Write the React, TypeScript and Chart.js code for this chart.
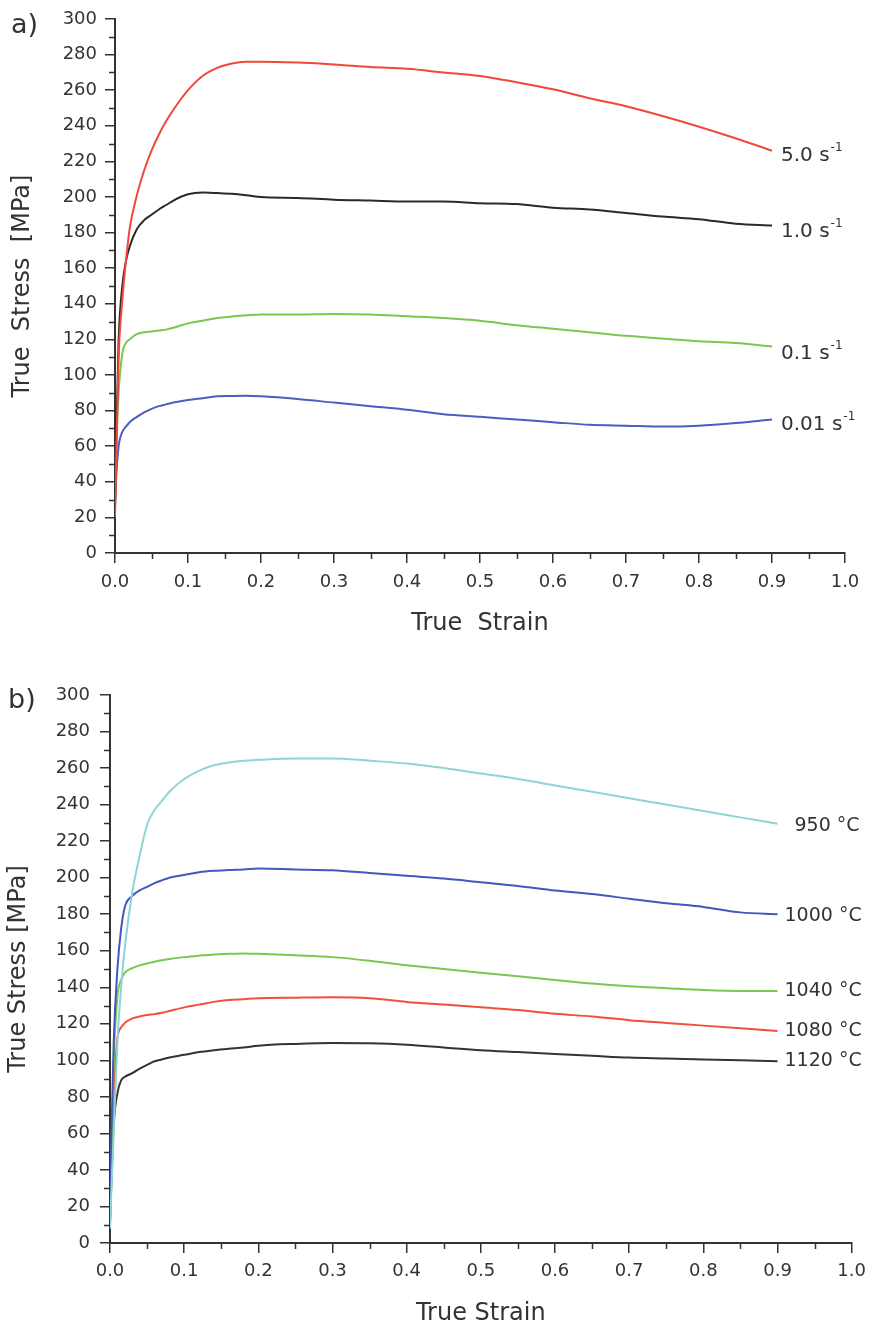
import React, { useEffect, useRef } from "react";
import { Chart, registerables } from "chart.js";

Chart.register(...registerables);

const FAMILY = "'DejaVu Sans', Verdana, sans-serif";
const INK = "#333333";

// ---------- Panel a) : strain-rate series ----------
const strainA = [0, 0.002, 0.005, 0.01, 0.015, 0.02, 0.03, 0.04, 0.05, 0.06, 0.07, 0.08, 0.1, 0.12, 0.14, 0.16, 0.18, 0.2, 0.25, 0.3, 0.35, 0.4, 0.45, 0.5, 0.55, 0.6, 0.65, 0.7, 0.75, 0.8, 0.85, 0.9];
const rate5 = [20, 60, 110, 142, 164, 182, 201, 215, 226, 235, 242.5, 249, 260, 268, 272.5, 275, 276, 276, 275.5, 274.5, 273, 272, 270, 268, 264.5, 260.5, 255.5, 251, 245.5, 239.5, 233, 226];
const rate1 = [25, 70, 120, 150, 164, 172, 182, 187, 190, 193, 195.5, 198, 201.5, 202.5, 202.2, 201.8, 201, 200, 199.5, 198.5, 198, 197.5, 197.5, 196.5, 196, 194, 193, 191, 189, 187.5, 185, 184];
const rate01 = [25, 60, 90, 112, 118, 120, 123, 124, 124.5, 125, 125.5, 126.5, 129, 130.5, 132, 132.8, 133.5, 134, 134, 134.3, 134, 133, 132, 130.5, 128, 126, 124, 122, 120.5, 119, 118, 116];
const rate001 = [28, 45, 60, 68, 71, 73.5, 76.5, 79, 81, 82.5, 83.5, 84.5, 86, 87, 88, 88.2, 88.3, 88, 86.5, 84.5, 82.5, 80.5, 78, 76.5, 75, 73.5, 72, 71.5, 71, 71.5, 73, 75];
const namesA = ["5.0 s", "1.0 s", "0.1 s", "0.01 s"];
const colorsA = ["#f0483a", "#2a2a2a", "#7cc550", "#4a5fc0"];

// ---------- Panel b) : temperature series ----------
const strainB = [0, 0.002, 0.005, 0.01, 0.015, 0.02, 0.03, 0.04, 0.05, 0.06, 0.07, 0.08, 0.1, 0.12, 0.14, 0.16, 0.18, 0.2, 0.25, 0.3, 0.35, 0.4, 0.45, 0.5, 0.55, 0.6, 0.65, 0.7, 0.75, 0.8, 0.85, 0.9];
const temp950 = [8, 30, 60, 110, 140, 162, 192, 212, 229, 237, 242, 247, 254, 258.5, 261.5, 263, 264, 264.5, 265.3, 265.3, 264, 262.5, 260, 257, 254, 250.5, 247, 243.5, 240, 236.5, 233, 229.5];
const temp1000 = [20, 60, 110, 150, 172, 184, 190, 193, 195, 197, 198.5, 200, 201.5, 203, 203.8, 204.2, 204.5, 205, 204.5, 204, 202.5, 201, 199.5, 197.5, 195.5, 193, 191, 188.5, 186, 184, 181, 180];
const temp1040 = [15, 50, 100, 135, 144, 148, 150.5, 152, 153, 154, 154.8, 155.5, 156.5, 157.3, 158, 158.3, 158.5, 158.3, 157.5, 156.5, 154.5, 152, 150, 148, 146, 144, 142, 140.5, 139.5, 138.5, 138, 138];
const temp1080 = [12, 40, 80, 112, 118, 120.5, 123, 124, 124.8, 125.3, 126, 127, 129, 130.5, 132, 133, 133.5, 134, 134.3, 134.5, 134, 132, 130.5, 129, 127.5, 125.5, 124, 122, 120.5, 119, 117.5, 116];
const temp1120 = [10, 35, 65, 82, 89, 91, 93, 95.5, 97.5, 99.5, 100.5, 101.5, 103, 104.5, 105.5, 106.3, 107, 108, 109, 109.5, 109.3, 108.5, 107, 105.5, 104.5, 103.5, 102.5, 101.5, 101, 100.5, 100, 99.5];
const namesB = ["950 °C", "1000 °C", "1040 °C", "1080 °C", "1120 °C"];
const colorsB = ["#8fd4d4", "#4258bb", "#7cc550", "#f0503e", "#333333"];

const stressTicks = { min: 0, max: 300, step: 20, minor: 10 };
const strainTicks = { min: 0, max: 1, step: 0.1, minor: 0.05 };

function points(xs: number[], ys: number[]) {
  return xs.map((x, i) => ({ x, y: ys[i] }));
}

const minorTicks = {
  id: "minorTicks",
  afterDraw(chart: any) {
    const { ctx, scales, chartArea } = chart;
    ctx.save();
    ctx.strokeStyle = INK;
    ctx.lineWidth = 1.5;
    ctx.beginPath();
    for (let v = stressTicks.minor; v < stressTicks.max; v += stressTicks.step) {
      const py = Math.round(scales.y.getPixelForValue(v)) + 0.5;
      ctx.moveTo(chartArea.left - 6, py);
      ctx.lineTo(chartArea.left, py);
    }
    for (let k = 0; k < 10; k++) {
      const v = strainTicks.minor + k * strainTicks.step;
      const px = Math.round(scales.x.getPixelForValue(v)) + 0.5;
      ctx.moveTo(px, chartArea.bottom);
      ctx.lineTo(px, chartArea.bottom + 6);
    }
    ctx.stroke();
    ctx.restore();
  },
};

const endLabels = {
  id: "endLabels",
  afterDatasetsDraw(chart: any, _args: any, opts: any) {
    const { ctx, scales } = chart;
    ctx.save();
    ctx.fillStyle = INK;
    ctx.textAlign = "left";
    ctx.textBaseline = "middle";
    chart.data.datasets.forEach((ds: any, i: number) => {
      const last = ds.data[ds.data.length - 1];
      const px = scales.x.getPixelForValue(last.x) + opts.dx[i];
      const py = scales.y.getPixelForValue(last.y) + opts.dy[i];
      ctx.font = `${opts.size}px ${FAMILY}`;
      ctx.fillText(ds.label, px, py);
      if (opts.sup) {
        const w = ctx.measureText(ds.label).width;
        ctx.font = `${opts.supSize}px ${FAMILY}`;
        ctx.fillText(opts.sup, px + w + 1, py - 8);
      }
    });
    ctx.font = `${opts.panelSize}px ${FAMILY}`;
    ctx.fillText(opts.panel, opts.panelX, opts.panelY);
    ctx.restore();
  },
};

function makeConfig(
  datasets: any[],
  pad: { right: number; top: number },
  yWidth: number,
  xHeight: number,
  xTitle: string,
  yTitle: string,
  xTitleBottom: number,
  yTitleTop: number,
  yTickPad: number,
  xTickPad: number,
  labelOpts: any
) {
  const tickFont = { family: FAMILY, size: 18 };
  const titleFont = { family: FAMILY, size: 24 };
  return {
    type: "line",
    data: { datasets },
    options: {
      responsive: false,
      maintainAspectRatio: false,
      animation: false,
      layout: { padding: { left: 0, right: pad.right, top: pad.top, bottom: 0 } },
      elements: {
        point: { radius: 0 },
        line: { borderWidth: 2, cubicInterpolationMode: "monotone" },
      },
      plugins: {
        legend: { display: false },
        tooltip: { enabled: false },
        endLabels: labelOpts,
      },
      scales: {
        x: {
          type: "linear",
          min: strainTicks.min,
          max: strainTicks.max,
          afterFit: (s: any) => {
            s.height = xHeight;
          },
          ticks: {
            stepSize: strainTicks.step,
            autoSkip: false,
            maxRotation: 0,
            color: INK,
            font: tickFont,
            padding: xTickPad,
            callback: (v: any) => Number(v).toFixed(1),
          },
          grid: { drawOnChartArea: false, drawTicks: true, tickLength: 10, color: INK, lineWidth: 1.5 },
          border: { display: true, color: INK, width: 2 },
          title: { display: true, text: xTitle, color: INK, font: titleFont, padding: { top: 0, bottom: xTitleBottom } },
        },
        y: {
          type: "linear",
          min: stressTicks.min,
          max: stressTicks.max,
          afterFit: (s: any) => {
            s.width = yWidth;
          },
          ticks: {
            stepSize: stressTicks.step,
            autoSkip: false,
            color: INK,
            font: tickFont,
            padding: yTickPad,
          },
          grid: { drawOnChartArea: false, drawTicks: true, tickLength: 10, color: INK, lineWidth: 1.5 },
          border: { display: true, color: INK, width: 2 },
          title: { display: true, text: yTitle, color: INK, font: titleFont, padding: { top: yTitleTop, bottom: 0 } },
        },
      },
    },
    plugins: [minorTicks, endLabels],
  };
}

function ChartPanel({ config, width, height, top }: any) {
  const ref = useRef<HTMLCanvasElement | null>(null);
  useEffect(() => {
    if (!ref.current) return;
    const chart = new Chart(ref.current, config);
    return () => chart.destroy();
  }, [config]);
  return (
    <canvas
      ref={ref}
      width={width}
      height={height}
      style={{ position: "absolute", left: 0, top, width, height }}
    />
  );
}

const seriesA = [rate5, rate1, rate01, rate001];
const seriesB = [temp950, temp1000, temp1040, temp1080, temp1120];

const configA = makeConfig(
  seriesA.map((ys, i) => ({
    label: namesA[i],
    data: points(strainA, ys),
    borderColor: colorsA[i],
    backgroundColor: colorsA[i],
    fill: false,
  })),
  { right: 29, top: 19 },
  115,
  107,
  "True  Strain",
  "True  Stress  [MPa]",
  22,
  8,
  8,
  9,
  { dx: [9, 9, 9, 9], dy: [5, 6, 7, 5], size: 20, sup: "-1", supSize: 12, panel: "a)", panelX: 11, panelY: 26, panelSize: 27 }
);

const configB = makeConfig(
  seriesB.map((ys, i) => ({
    label: namesB[i],
    data: points(strainB, ys),
    borderColor: colorsB[i],
    backgroundColor: colorsB[i],
    fill: false,
  })),
  { right: 19, top: 35 },
  110,
  85,
  "True Strain",
  "True Stress [MPa]",
  0,
  4,
  10,
  8,
  { dx: [17, 7, 7, 7, 7], dy: [2, 2, 0, 0, 0], size: 19, sup: "", supSize: 12, panel: "b)", panelX: 8, panelY: 41, panelSize: 27 }
);

export default function App() {
  return (
    <div style={{ position: "absolute", left: 0, top: 0, width: 874, height: 1328, background: "#fff" }}>
      <ChartPanel config={configA} width={874} height={660} top={0} />
      <ChartPanel config={configB} width={874} height={668} top={660} />
    </div>
  );
}
